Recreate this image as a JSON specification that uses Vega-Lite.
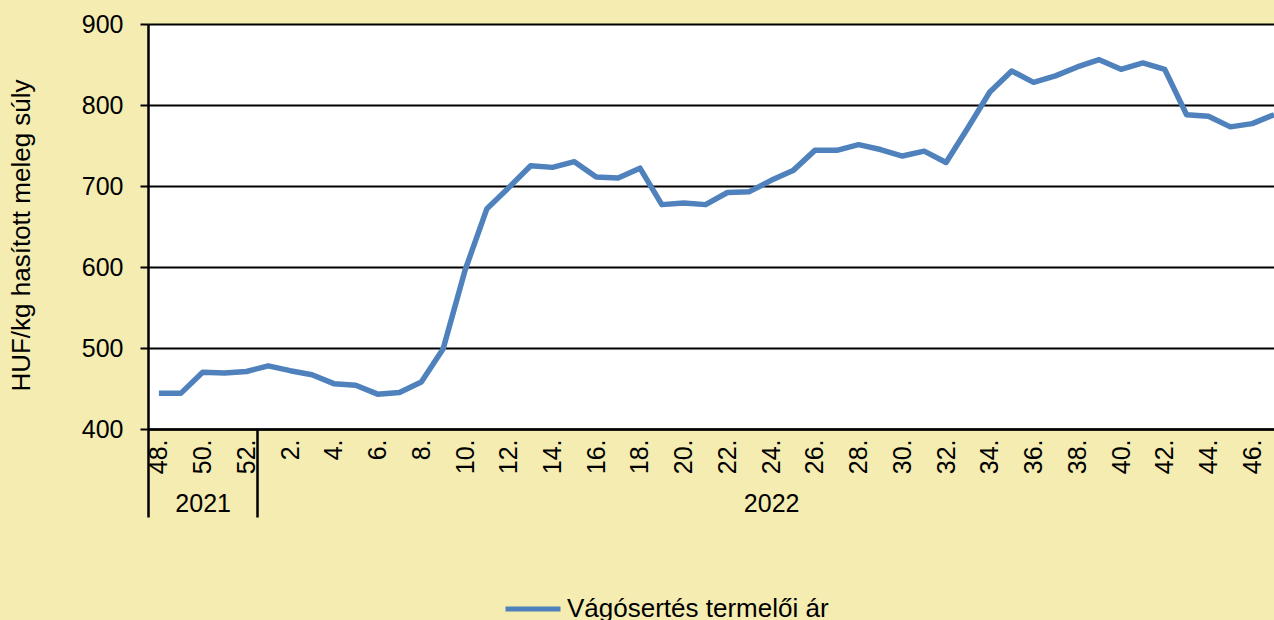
{
  "$schema": "https://vega.github.io/schema/vega-lite/v6.json",
  "width": 1126,
  "height": 405,
  "autosize": "none",
  "padding": {"left": 148, "top": 24, "right": 0, "bottom": 191},
  "background": "#F4ECB1",
  "config": {"view": {"fill": "white", "stroke": null}, "font": "Liberation Sans"},
  "data": {"values": [
    {"week": "48.", "year": 2021, "price": 444},
    {"week": "49.", "year": 2021, "price": 444},
    {"week": "50.", "year": 2021, "price": 470},
    {"week": "51.", "year": 2021, "price": 469},
    {"week": "52.", "year": 2021, "price": 471},
    {"week": "1.", "year": 2022, "price": 478},
    {"week": "2.", "year": 2022, "price": 472},
    {"week": "3.", "year": 2022, "price": 467},
    {"week": "4.", "year": 2022, "price": 456},
    {"week": "5.", "year": 2022, "price": 454},
    {"week": "6.", "year": 2022, "price": 443},
    {"week": "7.", "year": 2022, "price": 445},
    {"week": "8.", "year": 2022, "price": 458},
    {"week": "9.", "year": 2022, "price": 499},
    {"week": "10.", "year": 2022, "price": 596},
    {"week": "11.", "year": 2022, "price": 672},
    {"week": "12.", "year": 2022, "price": 698},
    {"week": "13.", "year": 2022, "price": 725},
    {"week": "14.", "year": 2022, "price": 723},
    {"week": "15.", "year": 2022, "price": 730},
    {"week": "16.", "year": 2022, "price": 711},
    {"week": "17.", "year": 2022, "price": 710},
    {"week": "18.", "year": 2022, "price": 722},
    {"week": "19.", "year": 2022, "price": 677},
    {"week": "20.", "year": 2022, "price": 679},
    {"week": "21.", "year": 2022, "price": 677},
    {"week": "22.", "year": 2022, "price": 692},
    {"week": "23.", "year": 2022, "price": 693},
    {"week": "24.", "year": 2022, "price": 707},
    {"week": "25.", "year": 2022, "price": 719},
    {"week": "26.", "year": 2022, "price": 744},
    {"week": "27.", "year": 2022, "price": 744},
    {"week": "28.", "year": 2022, "price": 751},
    {"week": "29.", "year": 2022, "price": 745},
    {"week": "30.", "year": 2022, "price": 737},
    {"week": "31.", "year": 2022, "price": 743},
    {"week": "32.", "year": 2022, "price": 729},
    {"week": "33.", "year": 2022, "price": 772},
    {"week": "34.", "year": 2022, "price": 816},
    {"week": "35.", "year": 2022, "price": 842},
    {"week": "36.", "year": 2022, "price": 828},
    {"week": "37.", "year": 2022, "price": 836},
    {"week": "38.", "year": 2022, "price": 847},
    {"week": "39.", "year": 2022, "price": 856},
    {"week": "40.", "year": 2022, "price": 844},
    {"week": "41.", "year": 2022, "price": 852},
    {"week": "42.", "year": 2022, "price": 844},
    {"week": "43.", "year": 2022, "price": 788},
    {"week": "44.", "year": 2022, "price": 786},
    {"week": "45.", "year": 2022, "price": 773},
    {"week": "46.", "year": 2022, "price": 777},
    {"week": "47.", "year": 2022, "price": 788}
  ]},
  "layer": [
    {
      "mark": {"type": "line", "strokeWidth": 5.5, "strokeJoin": "round", "clip": true},
      "encoding": {
        "x": {
          "field": "week", "type": "ordinal", "sort": null,
          "scale": {"type": "point", "range": [0, 1137], "padding": 0.5},
          "axis": {
            "orient": "bottom",
            "values": ["48.", "50.", "52.", "2.", "4.", "6.", "8.", "10.", "12.", "14.", "16.", "18.", "20.", "22.", "24.", "26.", "28.", "30.", "32.", "34.", "36.", "38.", "40.", "42.", "44.", "46."],
            "labelAngle": -90, "labelOverlap": false, "ticks": false,
            "domainColor": "black", "domainWidth": 2.5,
            "labelFontSize": 25, "labelColor": "black", "labelPadding": 10,
            "title": null, "grid": false
          }
        },
        "y": {
          "field": "price", "type": "quantitative",
          "scale": {"domain": [400, 900], "nice": false, "zero": false},
          "axis": {
            "values": [400, 500, 600, 700, 800, 900],
            "grid": true, "gridColor": "black", "gridWidth": 2, "gridOpacity": 1,
            "domainColor": "black", "domainWidth": 2.5,
            "tickColor": "black", "tickWidth": 2, "tickSize": 8,
            "labelFontSize": 25, "labelColor": "black", "labelPadding": 17,
            "title": "HUF/kg hasított meleg súly",
            "titleFontSize": 26, "titleFontWeight": "normal", "titleColor": "black",
            "titlePadding": 47, "titleY": 211
          }
        },
        "color": {
          "datum": "Vágósertés termelői ár", "type": "nominal",
          "scale": {"range": ["#4F81BD"]},
          "legend": {
            "title": null, "orient": "none", "legendX": 355, "legendY": 555,
            "symbolType": "stroke", "symbolStrokeWidth": 5, "symbolSize": 3025,
            "labelFontSize": 26, "labelColor": "black", "labelOffset": 4, "labelLimit": 0
          }
        }
      }
    },
    {
      "mark": {"type": "point", "opacity": 0},
      "encoding": {
        "x": {
          "field": "week", "type": "ordinal", "sort": null,
          "axis": {
            "orient": "bottom", "values": ["48.", "1."], "tickOffset": -10.93,
            "tickSize": 88, "tickWidth": 2.5, "tickColor": "black",
            "labels": false, "domain": false, "title": null, "grid": false
          }
        }
      }
    },
    {
      "mark": {"type": "point", "opacity": 0},
      "encoding": {
        "x": {
          "field": "week", "type": "ordinal", "sort": null,
          "axis": {
            "orient": "bottom", "values": ["50.", "24."],
            "labelExpr": "datum.value == '50.' ? '2021' : '2022'",
            "ticks": false, "domain": false, "labelAngle": 0, "labelPadding": 62,
            "labelFontSize": 25, "labelColor": "black", "title": null, "grid": false
          }
        }
      }
    }
  ],
  "resolve": {"axis": {"x": "independent"}}
}
